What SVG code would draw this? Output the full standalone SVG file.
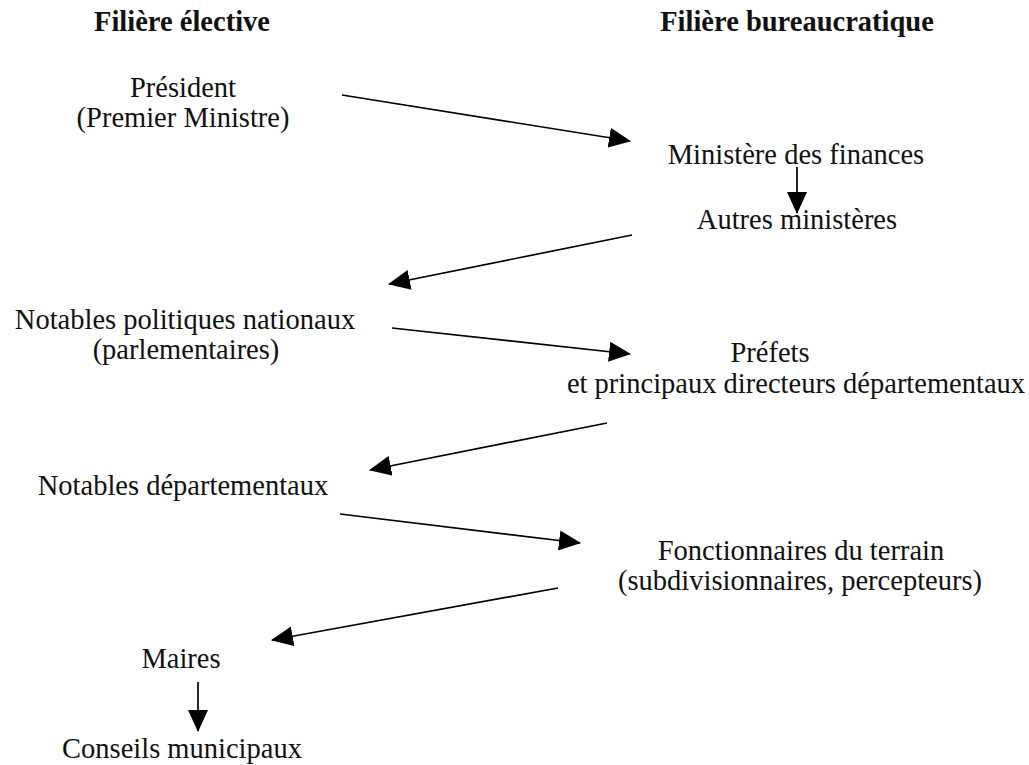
<svg xmlns="http://www.w3.org/2000/svg" width="1029" height="765" viewBox="0 0 1029 765">
<style>
.t{font-family:"Liberation Serif","Times New Roman",serif;font-size:28.5px;fill:#111;text-anchor:middle}
.h{font-family:"Liberation Serif","Times New Roman",serif;font-size:28.5px;font-weight:bold;fill:#111;text-anchor:middle}
.c{stroke:#000;stroke-width:1.7;fill:none;marker-end:url(#ah)}
</style>
<defs>
<marker id="ah" viewBox="0 0 22 20" refX="21" refY="10" markerWidth="22" markerHeight="20" markerUnits="userSpaceOnUse" orient="auto">
<path d="M0,0 L22,10 L0,20 Z" fill="#000"/>
</marker>
</defs>
<rect width="1029" height="765" fill="#fff"/>
<g id="titles">
<text class="h" x="182" y="31">Filière élective</text>
<text class="h" x="797" y="31">Filière bureaucratique</text>
</g>
<g id="president"><text class="t" x="183" y="97">Président</text><text class="t" x="183" y="127">(Premier Ministre)</text></g>
<g id="min-finances"><text class="t" x="796" y="164">Ministère des finances</text></g>
<g id="autres-ministeres"><text class="t" x="797" y="229">Autres ministères</text></g>
<g id="notables-nationaux"><text class="t" x="185" y="329">Notables politiques nationaux</text><text class="t" x="186" y="359">(parlementaires)</text></g>
<g id="prefets"><text class="t" x="770" y="362">Préfets</text><text class="t" x="796" y="393">et principaux directeurs départementaux</text></g>
<g id="notables-departementaux"><text class="t" x="183" y="495">Notables départementaux</text></g>
<g id="fonctionnaires"><text class="t" x="801" y="560">Fonctionnaires du terrain</text><text class="t" x="800" y="590">(subdivisionnaires, percepteurs)</text></g>
<g id="maires"><text class="t" x="181" y="668">Maires</text></g>
<g id="conseils"><text class="t" x="182" y="758">Conseils municipaux</text></g>
<g id="connectors">
<line class="c" x1="342" y1="95" x2="630" y2="141"/>
<line class="c" x1="797" y1="167" x2="797" y2="213"/>
<line class="c" x1="632" y1="235" x2="389" y2="284"/>
<line class="c" x1="392" y1="328" x2="630" y2="354"/>
<line class="c" x1="607" y1="423" x2="370" y2="470"/>
<line class="c" x1="340" y1="514" x2="580" y2="543"/>
<line class="c" x1="558" y1="588" x2="272" y2="640"/>
<line class="c" x1="198" y1="682" x2="198" y2="731"/>
</g>
</svg>
